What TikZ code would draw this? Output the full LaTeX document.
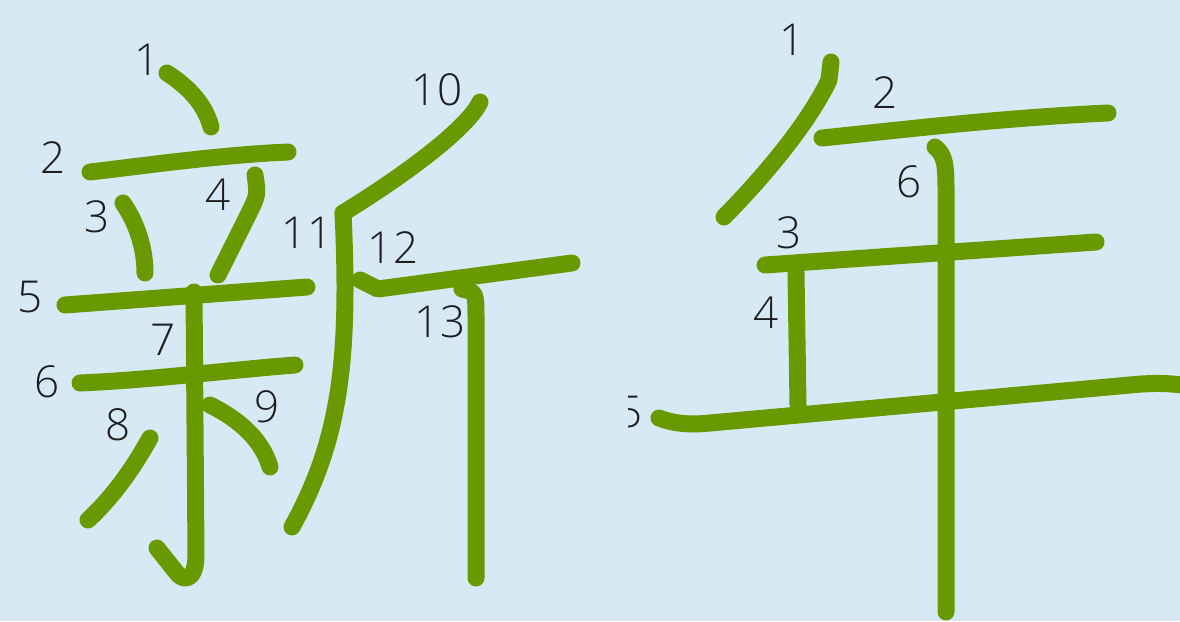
\documentclass[tikz,border=0pt]{standalone}
\usepackage{fontspec}
\setmainfont{Open Sans Light}
\usetikzlibrary{positioning}
\definecolor{strokegreen}{HTML}{679900}
\definecolor{paper}{HTML}{D6E9F5}
\definecolor{numgray}{HTML}{1E1E1E}
\tikzset{
every picture/.style={x=1pt,y=-1pt},
stroke/.style={draw=strokegreen, line width=17pt, line cap=round, line join=round},
num/.style={text=numgray, font=\fontsize{44}{44}\selectfont, inner sep=0pt}
}

\begin{document}
\begin{tikzpicture}
\fill[paper] (0,0) rectangle (1180,621);
\clip (0,0) rectangle (1180,621);

%Strokes of xin
\draw[stroke] (167,73) .. controls (190,88) and (205,105) .. (211,127);
\draw[stroke] (90,172) .. controls (150,165) and (220,155) .. (288,152);
\draw[stroke] (123,203) .. controls (138,225) and (145,250) .. (145,273);
\draw[stroke] (255,175) .. controls (258,195) .. (248,215) -- (218,275);
\draw[stroke] (65,305) -- (307,287);
\draw[stroke] (80,383) .. controls (150,380) and (230,370) .. (295,365);
\draw[stroke] (194,292) -- (196,555) .. controls (196,580) and (184,583) .. (176,572) -- (157,548);
\draw[stroke] (150,438) .. controls (135,465) and (115,495) .. (88,520);
\draw[stroke] (210,405) .. controls (240,420) and (262,440) .. (270,467);
\draw[stroke] (480,102) .. controls (468,128) and (405,175) .. (343,213);
\draw[stroke] (343,213) .. controls (350,360) and (340,440) .. (292,527);
\draw[stroke] (360,280) -- (378,289) -- (572,263);
\draw[stroke] (462,289) .. controls (476,292) .. (476,320) -- (476,578);

%Strokes of nian
\draw[stroke] (831,62) -- (829,80) .. controls (810,120) and (770,170) .. (724,217);
\draw[stroke] (822,138) .. controls (900,130) and (1000,118) .. (1108,113);
\draw[stroke] (765,265) -- (1096,242);
\draw[stroke] (796,273) -- (798,405);
\draw[stroke] (659,418) .. controls (675,424) and (690,425) .. (710,423) -- (1130,385) .. controls (1160,382) and (1175,384) .. (1190,386);
\draw[stroke] (935,147) .. controls (945,155) and (946,165) .. (946,190) -- (946,612);

%Numbers of xin
\node[num] (xin1) at (147,60) {1};
\node[num] (xin2) at (53,158) {2};
\node[num] (xin3) at (97,217) {3};
\node[num] (xin4) at (218,195) {4};
\node[num] (xin5) at (30,297) {5};
\node[num] (xin6) at (47,382) {6};
\node[num] (xin7) at (163,340) {7};
\node[num] (xin8) at (118,425) {8};
\node[num] (xin9) at (267,407) {9};
\node[num] (xin10) at (437,90) {10};
\node[num] (xin11) at (307,233) {11};
\node[num] (xin12) at (393,248) {12};
\node[num] (xin13) at (440,322) {13};

%Numbers of nian
\node[num] (nian1) at (792,40) {1};
\node[num] (nian2) at (885,93) {2};
\node[num] (nian3) at (789,233) {3};
\node[num] (nian4) at (766,313) {4};
\node[num] (nian6) at (909,182) {6};
\begin{scope}
\clip (628,0) rectangle (1180,621);
\node[num] (nian5) at (630,412) {5};
\end{scope}
\end{tikzpicture}
\end{document}
